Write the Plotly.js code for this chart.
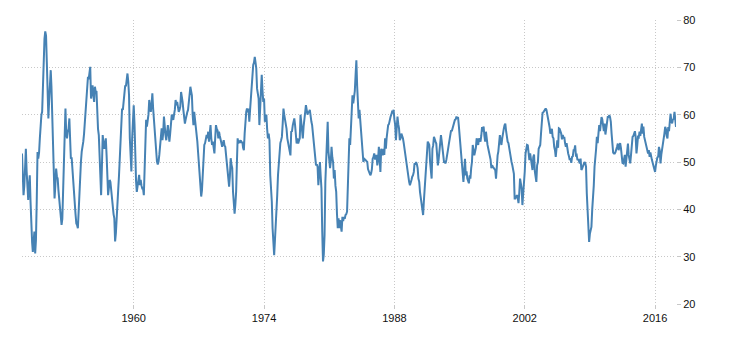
<!DOCTYPE html>
<html>
<head>
<meta charset="utf-8">
<script src="https://cdn.plot.ly/plotly-3.0.1.min.js"></script>
<style>
html,body{margin:0;padding:0;background:#fff;}
#chart{width:730px;height:340px;}
</style>
</head>
<body>
<div id="chart"></div>
<script>
// Monthly index values, first month = 1948-01
const firstYear = 1948;
const pmi1948s = [
  51.8,47,43,45,50,52.8,48,44,42,45,47.2,41.6,
  36,33,31,32.5,35.3,30.7,33.5,41.6,52.1,50.7,52,55,
  58.5,60,60.6,66,74,76,77.6,76.7,71,67,59.2,63,
  67.6,69.4,66,60,56,51.4,42.3,45,48.6,47,46.5,44,
  41.6,40,38,36.7,38,44.4,50,55,61.3,56,55,56.4,
  57,59.2,56,50.7,51,48.3,45,43,41.6,39,37,36.7,
  36,40,44.4,47,50,52.2,53,54.3,56,58.5,61,64.1,
  66,68,67.5,69,70.1,63.4,65,66.2,64,62.7,65.9,64.8,
  65,58.5,57,55.7,52,47.9,43,49,55.7,54,52.8,54,
  55,51.4,47,43,44.5,46.2,45.8,44,40.9,40,39,38.1,
  33.2,35,38.8,40.9,44,47,51.4,56.4,58,61.3,61,62.7,
  64,66.2,66,67.6,68.7,67,64.1,55,48.7,48,55,60
];
const pmi1960s = [
  62,58,50,46,43.7,45.1,46,47.3,45.1,46.2,45,44.4,
  44.4,43,48,57.8,58.9,57.5,58.5,60,63.1,61,60.6,62,
  64.5,61.3,59,57.8,54,52.2,50.1,49.5,50.1,51.5,53.6,55.5,
  57.1,54.6,56,59.6,57,55.7,54.6,56,57.8,56,54.3,56,
  57.8,60,59.5,58.9,60,61,63.1,62,62.7,61,60.6,61,
  61.7,64.8,64,62.7,61,59.2,58.1,59,60,60.5,61,63,
  65.5,65.9,65,64.1,60,57.8,60.6,59,58.5,56,54.3,52,
  50,46.5,45.8,42.7,44,47.9,50.5,53.6,54,54.6,55.7,55,
  56.4,54.3,56,57.8,55,53.6,54.3,53,51.8,55,57.8,57,
  56.7,55,56.4,55.5,54.3,54,53.2,54,54.6,53.5,53.2,51.5
];
const pmi1970s = [
  50,47.2,46,44.8,47,50.8,49.5,48.7,43.7,42,39.1,41,
  43.7,50,55,53.9,54.5,54.3,54.6,54,54.3,53,52.5,56,
  60,60.6,61.3,60.5,61.3,58.5,61,64.1,66.9,68,70.5,71,
  72.2,71,69.8,65.5,64,63.4,57.8,62,64.1,68.4,65,62.7,
  63.4,58.5,59,60,57,55,56,54.6,47.2,45,41.6,36,
  31.7,30.3,33.2,36,39.5,43,47.2,50.5,52.8,54,54.6,55.3,
  58,61.3,60,59.2,57.8,57,55,54,53.6,52,51.4,56.4,
  56.5,57.8,58.5,59.2,57.8,55.5,53.9,55,53.9,54.5,55,60,
  57.5,57.1,55,57.5,60,60.5,62,61,60,60.5,60.6,61,
  58.9,58.5,57.8,56,54.3,52.2,50,49.3,49.5,49,45.1,47
];
const pmi1980s = [
  50,47,44.4,35.3,29,30.5,34.6,45.8,50,54.3,58.5,52.2,
  51,48.7,50,53.2,51,50,46.5,48.3,45,43.7,39,36,
  38.1,36,37.7,36.5,35.3,38.4,37.5,38.4,38,38.8,39,39.5,
  45.8,52,55,53.6,57.1,60,64.1,62.4,63.4,65,68.4,71.5,
  66,63.4,59.2,61,58.5,57.8,55,52.8,50,50.7,50.4,50.4,
  50.2,50,48.5,47.9,47.5,47.2,47.6,48.5,50.7,51,51.8,50.7,
  50.7,51.5,49.3,50.5,53.2,50,47.9,52.8,51.5,51.4,52.8,51.5,
  55,52.8,55,57.1,57.8,58,59.2,59.5,60,60.6,60.5,61,
  59,57.8,54.6,57.1,59.6,58,57.1,54.6,55,56,55.5,55,
  54,52.8,52.2,50,48.7,47.5,46.5,45.8,45.1,46,46.2,46.9
];
const pmi1990s = [
  47.2,47.9,49.7,49.5,50,49.5,48.7,46.5,45.8,43.7,42.2,40.9,
  39.2,38.8,41.6,44.5,47.8,50.7,52,54.3,54,53.6,50,47.9,
  46.5,52.8,53.5,55.3,54.5,54.3,53.9,51,49.3,50.5,52.2,54,
  55.7,54.3,53,51.4,50,50,49.7,50.5,52.2,52.5,53.6,55,
  55.7,56.7,56.5,57.1,58,58.5,58.9,59,59.6,59.2,59.5,57.8,
  56,54.3,51.4,50,47.9,45.8,48,50.7,47.2,48,46.5,46,
  45.5,47.2,46.5,48.7,50,53.6,52,51.4,52.2,53,55,54,
  53.6,55,54.5,54.3,55.5,57.4,56.4,57.5,55.5,54.3,56.4,54.5,
  53.6,52.8,52,51.4,50.5,48.7,49.3,49,48.7,48.5,48.3,46.5,
  50,51.4,52.2,53.5,55.7,54.5,53.6,55,56.4,57,57.8,58.1
];
const pmi2000s = [
  56.5,55,54.3,54,52.8,51.5,51.4,50,49.3,48.7,47.5,42.3,
  42.3,42.7,43,42.5,41.3,43.5,46.5,45.5,44.4,40.9,43,44.4,
  48,51.8,52.5,53.6,53.5,52,50.4,51.8,50.7,49,48.3,51,
  51.6,48,46.2,45.8,49.3,50,52.8,53.2,53.6,56,58.5,60.4,
  60.5,60.9,61,61.3,61,60.2,59.5,58,57.4,56,56.7,57,
  55.3,55,53.2,52.5,51.1,53,54.6,53,57.1,57,56.5,56,
  54.8,55.7,55,55.3,54,53.2,54,52.5,51.8,51.2,50.4,50.8,
  49.8,51.1,51.2,52.5,52.5,53.5,51.4,51.5,50.4,50.6,50.2,49.7,
  50.7,48.3,48.6,49,49.5,50,49.8,49,43.3,39.1,36.5,33.1,
  34.9,35.5,36.3,40,41.9,45,49,52.5,52.8,55.3,54,56
];
const pmi2010s = [
  57.8,56.5,59.2,59.5,59,57.4,56.5,58.1,55.8,57,58.5,59.5,
  59.5,59.9,59.5,58.5,56,53.2,52,51.8,51.8,52.1,52.5,53.2,
  53.9,52.5,53.2,54,53,51.1,49.8,49.7,51.4,51.5,49,50.5,
  53.1,53.9,51.5,50.5,49.7,51.5,53.9,55.3,55.5,56,56.5,55.3,
  51.8,53.5,55.3,55.2,56.4,55.5,57.4,58.1,56,57.5,55.3,54.6,
  53.5,53.2,52,51.8,52.5,51.1,52,50.8,50.4,49.8,49,48,
  47.9,49.3,50.4,51,51.1,53.2,52.5,49.7,51.5,52.5,53.2,54.6,
  56,57.4,57,55.5,55,57.4,56.5,58.5,60.2,58.5,58.2,59,
  59.1,60.6,58.8,57.4
];
const yTickVals = [20, 30, 40, 50, 60, 70, 80];
const xTickYears = [1960, 1974, 1988, 2002, 2016];

const pmiValues = [].concat(pmi1948s, pmi1960s, pmi1970s, pmi1980s, pmi1990s, pmi2000s, pmi2010s);
const dates = pmiValues.map((v, i) => {
  const y = firstYear + Math.floor(i / 12);
  const m = (i % 12) + 1;
  return y + '-' + (m < 10 ? '0' + m : m) + '-01';
});

const trace = {
  x: dates,
  y: pmiValues,
  type: 'scatter',
  mode: 'lines',
  line: {color: '#4682b4', width: 2},
  hoverinfo: 'skip'
};

const layout = {
  width: 730, height: 340,
  margin: {l: 22, r: 54, t: 20, b: 36, pad: 0},
  paper_bgcolor: '#fff', plot_bgcolor: '#fff',
  showlegend: false,
  font: {family: 'Liberation Sans, Arial, sans-serif', size: 11, color: '#111'},
  xaxis: {
    type: 'date',
    range: [dates[0], dates[dates.length - 1]],
    tickvals: xTickYears.map(y => y + '-01-01'),
    ticktext: xTickYears.map(String),
    showgrid: true, gridcolor: '#c8c8c8', griddash: '1px,2px', gridwidth: 1,
    ticks: 'outside', ticklen: 4, tickcolor: '#c8c8c8',
    showline: false, zeroline: false,
    tickfont: {size: 11, color: '#111'}
  },
  yaxis: {
    side: 'right',
    range: [20, 80],
    tickvals: yTickVals,
    showgrid: true, gridcolor: '#c8c8c8', griddash: '1px,2px', gridwidth: 1,
    ticks: 'outside', ticklen: 4, tickcolor: '#c8c8c8',
    showline: false, zeroline: false,
    tickfont: {size: 11, color: '#111'}
  }
};

Plotly.newPlot('chart', [trace], layout, {staticPlot: true, displayModeBar: false});
</script>
</body>
</html>
